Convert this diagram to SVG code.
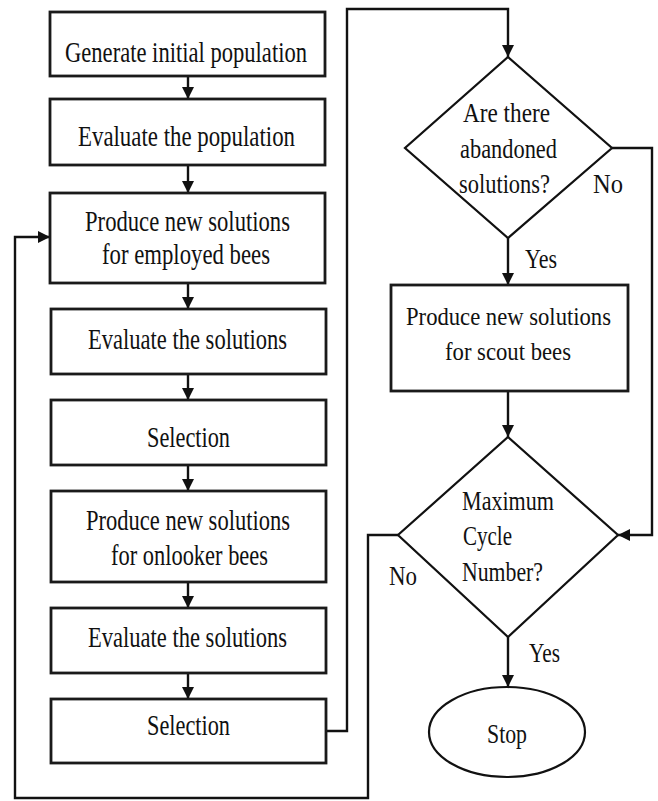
<svg xmlns="http://www.w3.org/2000/svg" width="658" height="801" viewBox="0 0 658 801">
<defs>
<style>
.box{fill:#fff;stroke:#1a1a1a;stroke-width:2.8}
.dia{fill:#fff;stroke:#111;stroke-width:2.2}
.ln{fill:none;stroke:#111;stroke-width:2.4}
.t{font-family:"Liberation Serif","Times New Roman",serif;font-size:29px;fill:#111}
.s{font-family:"Liberation Serif","Times New Roman",serif;font-size:26px;fill:#111}
.d{font-family:"Liberation Serif","Times New Roman",serif;font-size:27px;fill:#111}
</style>
<marker id="ah" markerUnits="userSpaceOnUse" markerWidth="12" markerHeight="14" refX="12" refY="6" orient="auto">
<path d="M0,0 L12,6 L0,12 Z" fill="#111"/>
</marker>
</defs>
<rect width="658" height="801" fill="#fff"/>
<g id="connectors">
<line class="ln" x1="188" y1="76" x2="188" y2="99" marker-end="url(#ah)"/>
<line class="ln" x1="188" y1="165" x2="188" y2="193" marker-end="url(#ah)"/>
<line class="ln" x1="188" y1="283" x2="188" y2="309" marker-end="url(#ah)"/>
<line class="ln" x1="188" y1="374" x2="188" y2="400" marker-end="url(#ah)"/>
<line class="ln" x1="188" y1="465" x2="188" y2="491" marker-end="url(#ah)"/>
<line class="ln" x1="188" y1="582" x2="188" y2="608" marker-end="url(#ah)"/>
<line class="ln" x1="188" y1="673" x2="188" y2="699" marker-end="url(#ah)"/>
<polyline class="ln" points="325,731 347,731 347,9 508,9 508,57" marker-end="url(#ah)"/>
<line class="ln" x1="508" y1="238" x2="508" y2="285" marker-end="url(#ah)"/>
<polyline class="ln" points="612,148 652,148 652,535 618,535" marker-end="url(#ah)"/>
<line class="ln" x1="508" y1="391" x2="508" y2="437" marker-end="url(#ah)"/>
<line class="ln" x1="508" y1="637" x2="508" y2="687" marker-end="url(#ah)"/>
<polyline class="ln" points="398,535 368,535 368,798 15,798 15,237 50,237" marker-end="url(#ah)"/>
<text class="d" x="593" y="193" textLength="30" lengthAdjust="spacingAndGlyphs">No</text>
<text class="d" x="525" y="268" textLength="32" lengthAdjust="spacingAndGlyphs">Yes</text>
<text class="d" x="389" y="585" textLength="28" lengthAdjust="spacingAndGlyphs">No</text>
<text class="d" x="529" y="662" textLength="31" lengthAdjust="spacingAndGlyphs">Yes</text>
</g>
<g id="n1"><rect class="box" x="50" y="12" width="275" height="64"/>
<text class="t" x="65" y="62" textLength="242" lengthAdjust="spacingAndGlyphs">Generate initial population</text></g>
<g id="n2"><rect class="box" x="50" y="99" width="275" height="66"/>
<text class="t" x="78" y="146" textLength="217" lengthAdjust="spacingAndGlyphs">Evaluate the population</text></g>
<g id="n3"><rect class="box" x="50" y="193" width="275" height="90"/>
<text class="t" x="85" y="231" textLength="205" lengthAdjust="spacingAndGlyphs">Produce new solutions</text>
<text class="t" x="102" y="264" textLength="168" lengthAdjust="spacingAndGlyphs">for employed bees</text></g>
<g id="n4"><rect class="box" x="51" y="309" width="275" height="65"/>
<text class="t" x="88" y="349" textLength="199" lengthAdjust="spacingAndGlyphs">Evaluate the solutions</text></g>
<g id="n5"><rect class="box" x="51" y="400" width="275" height="65"/>
<text class="t" x="147" y="447" textLength="83" lengthAdjust="spacingAndGlyphs">Selection</text></g>
<g id="n6"><rect class="box" x="51" y="491" width="275" height="91"/>
<text class="t" x="86" y="530" textLength="204" lengthAdjust="spacingAndGlyphs">Produce new solutions</text>
<text class="t" x="111" y="565" textLength="157" lengthAdjust="spacingAndGlyphs">for onlooker bees</text></g>
<g id="n7"><rect class="box" x="51" y="608" width="275" height="65"/>
<text class="t" x="88" y="647" textLength="199" lengthAdjust="spacingAndGlyphs">Evaluate the solutions</text></g>
<g id="n8"><rect class="box" x="51" y="699" width="275" height="64"/>
<text class="t" x="147" y="735" textLength="83" lengthAdjust="spacingAndGlyphs">Selection</text></g>
<g id="d1"><polygon class="dia" points="508,57 612,148 508,238 405,148"/>
<text class="d" x="463" y="122" textLength="87" lengthAdjust="spacingAndGlyphs">Are there</text>
<text class="d" x="460" y="158" textLength="97" lengthAdjust="spacingAndGlyphs">abandoned</text>
<text class="d" x="459" y="193" textLength="91" lengthAdjust="spacingAndGlyphs">solutions?</text></g>
<g id="n9"><rect class="box" x="391" y="285" width="237" height="106"/>
<text class="s" x="406" y="325" textLength="205" lengthAdjust="spacingAndGlyphs">Produce new solutions</text>
<text class="s" x="445" y="360" textLength="126" lengthAdjust="spacingAndGlyphs">for scout bees</text></g>
<g id="d2"><polygon class="dia" points="508,437 618,535 508,637 398,535"/>
<text class="d" x="462" y="510" textLength="92" lengthAdjust="spacingAndGlyphs">Maximum</text>
<text class="d" x="463" y="545" textLength="49" lengthAdjust="spacingAndGlyphs">Cycle</text>
<text class="d" x="462" y="581" textLength="81" lengthAdjust="spacingAndGlyphs">Number?</text></g>
<g id="stop"><ellipse class="dia" cx="507" cy="732" rx="78" ry="45"/>
<text class="d" x="487" y="743" textLength="40" lengthAdjust="spacingAndGlyphs">Stop</text></g>
</svg>
